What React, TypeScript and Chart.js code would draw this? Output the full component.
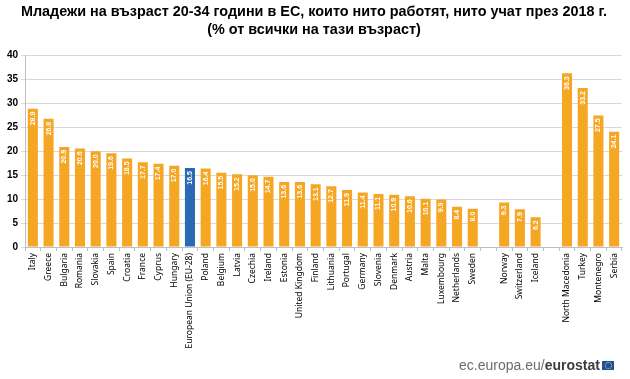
import React, { useEffect, useRef } from "react";
import { Chart, registerables } from "chart.js";

Chart.register(...registerables);

const countries = [
  "Italy", "Greece", "Bulgaria", "Romania", "Slovakia", "Spain", "Croatia", "France", "Cyprus", "Hungary",
  "European Union (EU-28)", "Poland", "Belgium", "Latvia", "Czechia", "Ireland", "Estonia", "United Kingdom",
  "Finland", "Lithuania", "Portugal", "Germany", "Slovenia", "Denmark", "Austria", "Malta", "Luxembourg",
  "Netherlands", "Sweden", "", "Norway", "Switzerland", "Iceland", "", "North Macedonia", "Turkey",
  "Montenegro", "Serbia",
];

const values: (number | null)[] = [
  28.9, 26.8, 20.9, 20.6, 20.0, 19.6, 18.5, 17.7, 17.4, 17.0,
  16.5, 16.4, 15.5, 15.2, 15.0, 14.7, 13.6, 13.6,
  13.1, 12.7, 11.9, 11.4, 11.1, 10.9, 10.6, 10.1, 9.9,
  8.4, 8.0, null, 9.3, 7.9, 6.2, null, 36.3, 33.2,
  27.5, 24.1,
];

const yTicks = [0, 5, 10, 15, 20, 25, 30, 35, 40];

const titleLines = [
  "Младежи на възраст 20-34 години в ЕС, които нито работят, нито учат през 2018 г.",
  "(% от всички на тази възраст)",
];

const ORANGE = "#F5A623";
const BLUE = "#2A6AB4";

const valueLabels = {
  id: "valueLabels",
  afterDatasetsDraw(chart: any) {
    const ctx = chart.ctx;
    const meta = chart.getDatasetMeta(0);
    ctx.save();
    ctx.fillStyle = "#ffffff";
    ctx.font = "bold 7px 'Liberation Sans', Arial, sans-serif";
    ctx.textAlign = "right";
    ctx.textBaseline = "middle";
    meta.data.forEach((bar: any, i: number) => {
      const v = values[i];
      if (v === null || v === undefined) return;
      ctx.save();
      ctx.translate(bar.x, bar.y + 3);
      ctx.rotate(-Math.PI / 2);
      ctx.fillText(v.toFixed(1), 0, 0);
      ctx.restore();
    });
    ctx.restore();
  },
};

export default function App() {
  const ref = useRef<HTMLCanvasElement | null>(null);

  useEffect(() => {
    if (!ref.current) return;
    const colors = countries.map((c) => (c.startsWith("European Union") ? BLUE : ORANGE));
    const chart = new Chart(ref.current, {
      type: "bar",
      data: {
        labels: countries,
        datasets: [
          {
            data: values as any,
            backgroundColor: colors,
            barPercentage: 0.64,
            categoryPercentage: 1,
          },
        ],
      },
      options: {
        animation: false,
        responsive: false,
        maintainAspectRatio: false,
        layout: { padding: { left: 6, right: 8, top: 0, bottom: 0 } },
        plugins: {
          legend: { display: false },
          tooltip: { enabled: false },
          title: {
            display: true,
            text: titleLines,
            color: "#000000",
            font: { family: "'Liberation Sans', Arial, sans-serif", size: 14.4, weight: "bold", lineHeight: 1.27 },
            padding: { top: 3, bottom: 16 },
          },
        },
        scales: {
          x: {
            grid: { display: true, offset: true, drawOnChartArea: false, drawTicks: true, tickLength: 4, color: "#bfbfbf" },
            border: { display: true, color: "#bfbfbf" },
            ticks: {
              autoSkip: false,
              minRotation: 90,
              maxRotation: 90,
              padding: 2,
              color: "#000000",
              font: { family: "'Noto Sans', 'Liberation Sans', sans-serif", size: 8.5 },
            },
            afterFit(scale: any) {
              scale.height = 132;
            },
          },
          y: {
            min: 0,
            max: 40,
            afterBuildTicks(scale: any) {
              scale.ticks = yTicks.map((v) => ({ value: v }));
            },
            grid: { color: "#d9d9d9", lineWidth: 1, drawTicks: true, tickLength: 4 },
            border: { display: true, color: "#bfbfbf" },
            ticks: {
              color: "#000000",
              padding: 3,
              font: { family: "'Liberation Sans', Arial, sans-serif", size: 10, weight: "bold" },
            },
            afterFit(scale: any) {
              scale.width = 19;
            },
          },
        },
      },
      plugins: [valueLabels],
    });
    return () => chart.destroy();
  }, []);

  return (
    <div style={{ position: "absolute", left: 0, top: 0, width: 630, height: 379, background: "#fff" }}>
      <canvas ref={ref} width={630} height={379} style={{ position: "absolute", left: 0, top: 0, width: 630, height: 379 }} />
      <div
        style={{
          position: "absolute",
          left: 459,
          top: 357,
          fontFamily: "'Liberation Sans', Arial, sans-serif",
          fontSize: 14,
          color: "#6d6d6d",
          whiteSpace: "nowrap",
          lineHeight: "16px",
          display: "flex",
          alignItems: "center",
        }}
      >
        <span>ec.europa.eu/</span>
        <span style={{ fontWeight: "bold", color: "#3d3d3d" }}>eurostat</span>
        <span
          style={{
            display: "inline-block",
            width: 12,
            height: 9,
            marginLeft: 2,
            background: "#1f4fa3",
            position: "relative",
          }}
        >
          <span
            style={{
              position: "absolute",
              left: 3,
              top: 1.5,
              width: 5,
              height: 5,
              borderRadius: "50%",
              border: "1px dotted #f2d23a",
            }}
          />
        </span>
      </div>
    </div>
  );
}
